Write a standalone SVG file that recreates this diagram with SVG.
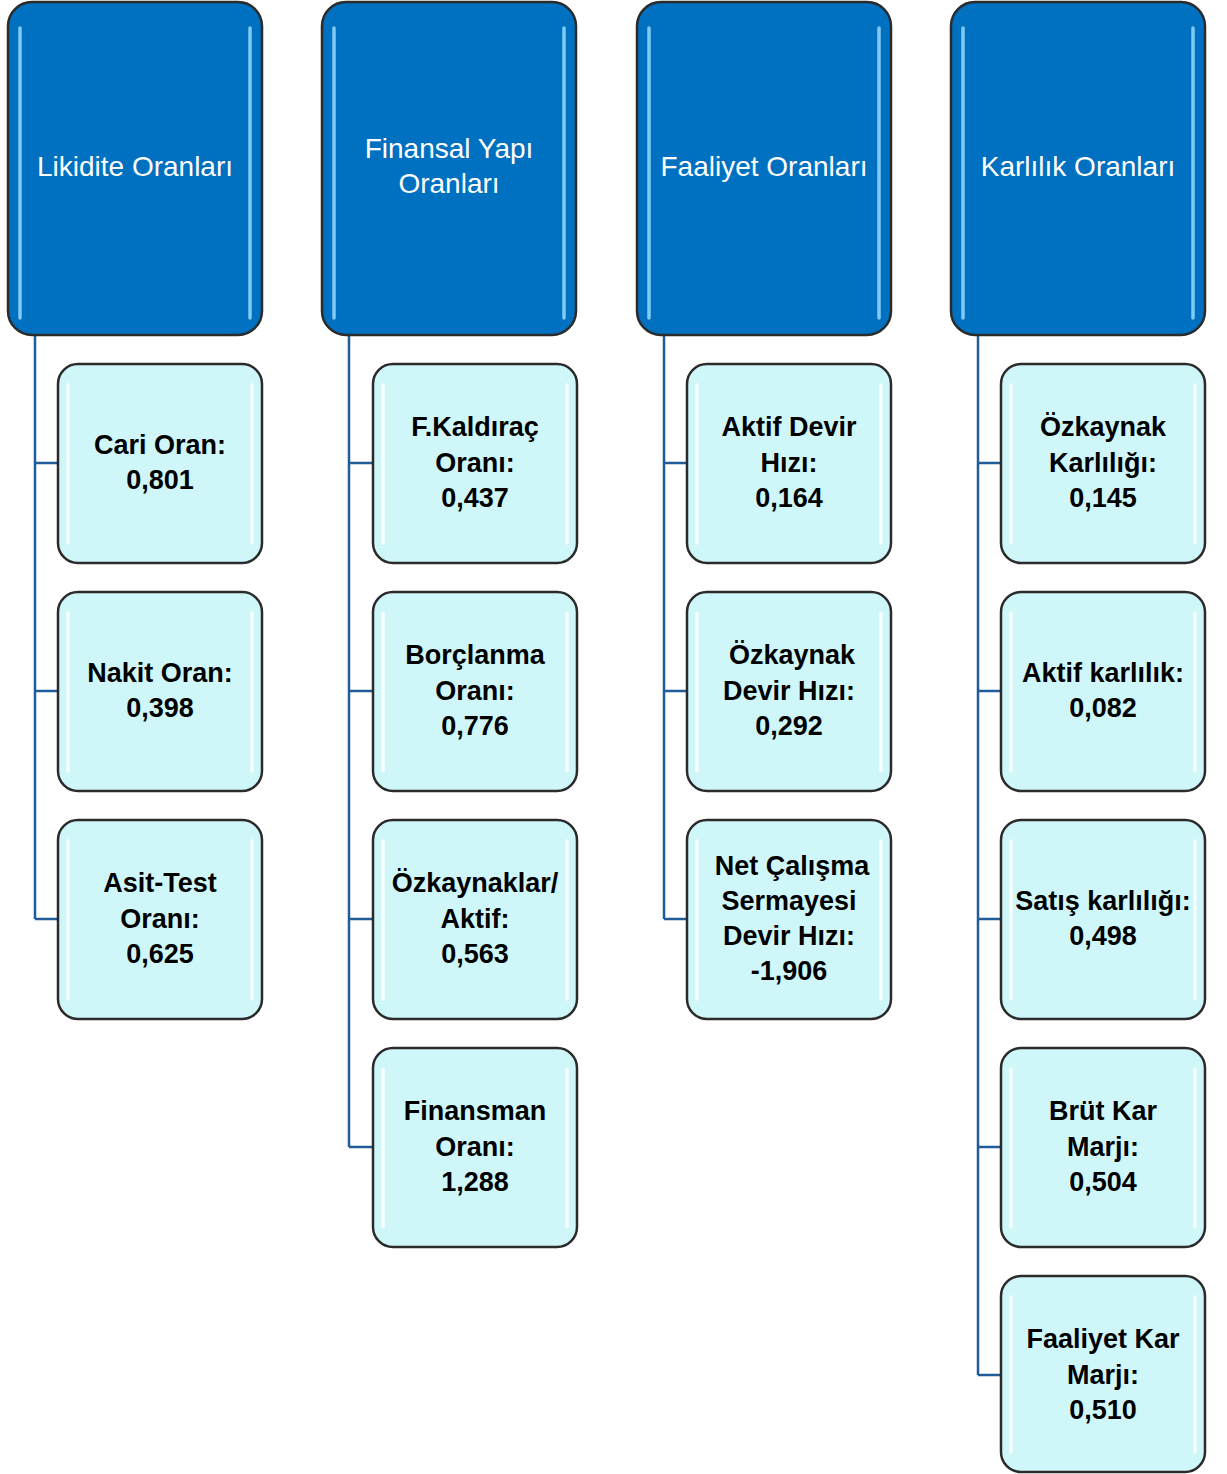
<svg xmlns="http://www.w3.org/2000/svg" width="1227" height="1474" viewBox="0 0 1227 1474">
<style>
.hdr{fill:#0070C0;stroke:#2b2b2b;stroke-width:2.5}
.hl{stroke:#8ED4FA;stroke-width:3.5;stroke-linecap:round;fill:none;opacity:0.9}
.chl{stroke:#ffffff;stroke-width:3.5;stroke-linecap:round;fill:none;opacity:0.8}
.box{fill:#CFF7FA;stroke:#2b2b2b;stroke-width:2.5}
.ht{font-family:"Liberation Sans",Arial,sans-serif;font-size:28px;fill:#ffffff;text-anchor:middle}
.ct{font-family:"Liberation Sans",Arial,sans-serif;font-size:27px;font-weight:bold;fill:#000;text-anchor:middle}
.con{stroke:#1F5C99;stroke-width:2.5;fill:none}
</style>
<rect width="1227" height="1474" fill="#ffffff"/>
<g id="connectors">
<path class="con" d="M35 335 V919 M35 463 H58 M35 691 H58 M35 919 H58"/>
<path class="con" d="M349 335 V1147 M349 463 H372 M349 691 H372 M349 919 H372 M349 1147 H372"/>
<path class="con" d="M664 335 V919 M664 463 H687 M664 691 H687 M664 919 H687"/>
<path class="con" d="M978 335 V1375 M978 463 H1001 M978 691 H1001 M978 919 H1001 M978 1147 H1001 M978 1375 H1001"/>
</g>
<g id="h1"><rect class="hdr" x="8" y="2" width="254" height="333" rx="24"/><path class="hl" d="M20 28 V318 M250 28 V318"/><text class="ht" x="135" y="176">Likidite Oranları</text></g>
<g id="h2"><rect class="hdr" x="322" y="2" width="254" height="333" rx="24"/><path class="hl" d="M334 28 V318 M564 28 V318"/><text class="ht" x="449" y="158">Finansal Yapı</text><text class="ht" x="449" y="193">Oranları</text></g>
<g id="h3"><rect class="hdr" x="637" y="2" width="254" height="333" rx="24"/><path class="hl" d="M649 28 V318 M879 28 V318"/><text class="ht" x="764" y="176">Faaliyet Oranları</text></g>
<g id="h4"><rect class="hdr" x="951" y="2" width="254" height="333" rx="24"/><path class="hl" d="M963 28 V318 M1193 28 V318"/><text class="ht" x="1078" y="176">Karlılık Oranları</text></g>

<g id="c1a"><rect class="box" x="58" y="364" width="204" height="199" rx="20"/><path class="chl" d="M68 385 V543 M252 385 V543"/><text class="ct" x="160" y="454">Cari Oran:</text><text class="ct" x="160" y="489">0,801</text></g>
<g id="c1b"><rect class="box" x="58" y="592" width="204" height="199" rx="20"/><path class="chl" d="M68 613 V771 M252 613 V771"/><text class="ct" x="160" y="682">Nakit Oran:</text><text class="ct" x="160" y="717">0,398</text></g>
<g id="c1c"><rect class="box" x="58" y="820" width="204" height="199" rx="20"/><path class="chl" d="M68 841 V999 M252 841 V999"/><text class="ct" x="160" y="892">Asit-Test</text><text class="ct" x="160" y="928">Oranı:</text><text class="ct" x="160" y="963">0,625</text></g>

<g id="c2a"><rect class="box" x="373" y="364" width="204" height="199" rx="20"/><path class="chl" d="M383 385 V543 M567 385 V543"/><text class="ct" x="475" y="436">F.Kaldıraç</text><text class="ct" x="475" y="472">Oranı:</text><text class="ct" x="475" y="507">0,437</text></g>
<g id="c2b"><rect class="box" x="373" y="592" width="204" height="199" rx="20"/><path class="chl" d="M383 613 V771 M567 613 V771"/><text class="ct" x="475" y="664">Borçlanma</text><text class="ct" x="475" y="700">Oranı:</text><text class="ct" x="475" y="735">0,776</text></g>
<g id="c2c"><rect class="box" x="373" y="820" width="204" height="199" rx="20"/><path class="chl" d="M383 841 V999 M567 841 V999"/><text class="ct" x="475" y="892">Özkaynaklar/</text><text class="ct" x="475" y="928">Aktif:</text><text class="ct" x="475" y="963">0,563</text></g>
<g id="c2d"><rect class="box" x="373" y="1048" width="204" height="199" rx="20"/><path class="chl" d="M383 1069 V1227 M567 1069 V1227"/><text class="ct" x="475" y="1120">Finansman</text><text class="ct" x="475" y="1156">Oranı:</text><text class="ct" x="475" y="1191">1,288</text></g>

<g id="c3a"><rect class="box" x="687" y="364" width="204" height="199" rx="20"/><path class="chl" d="M697 385 V543 M881 385 V543"/><text class="ct" x="789" y="436">Aktif Devir</text><text class="ct" x="789" y="472">Hızı:</text><text class="ct" x="789" y="507">0,164</text></g>
<g id="c3b"><rect class="box" x="687" y="592" width="204" height="199" rx="20"/><path class="chl" d="M697 613 V771 M881 613 V771"/><text class="ct" x="792" y="664">Özkaynak</text><text class="ct" x="789" y="700">Devir Hızı:</text><text class="ct" x="789" y="735">0,292</text></g>
<g id="c3c"><rect class="box" x="687" y="820" width="204" height="199" rx="20"/><path class="chl" d="M697 841 V999 M881 841 V999"/><text class="ct" x="792" y="875">Net Çalışma</text><text class="ct" x="789" y="910">Sermayesi</text><text class="ct" x="789" y="945">Devir Hızı:</text><text class="ct" x="789" y="980">-1,906</text></g>

<g id="c4a"><rect class="box" x="1001" y="364" width="204" height="199" rx="20"/><path class="chl" d="M1011 385 V543 M1195 385 V543"/><text class="ct" x="1103" y="436">Özkaynak</text><text class="ct" x="1103" y="472">Karlılığı:</text><text class="ct" x="1103" y="507">0,145</text></g>
<g id="c4b"><rect class="box" x="1001" y="592" width="204" height="199" rx="20"/><path class="chl" d="M1011 613 V771 M1195 613 V771"/><text class="ct" x="1103" y="682">Aktif karlılık:</text><text class="ct" x="1103" y="717">0,082</text></g>
<g id="c4c"><rect class="box" x="1001" y="820" width="204" height="199" rx="20"/><path class="chl" d="M1011 841 V999 M1195 841 V999"/><text class="ct" x="1103" y="910">Satış karlılığı:</text><text class="ct" x="1103" y="945">0,498</text></g>
<g id="c4d"><rect class="box" x="1001" y="1048" width="204" height="199" rx="20"/><path class="chl" d="M1011 1069 V1227 M1195 1069 V1227"/><text class="ct" x="1103" y="1120">Brüt Kar</text><text class="ct" x="1103" y="1156">Marjı:</text><text class="ct" x="1103" y="1191">0,504</text></g>
<g id="c4e"><rect class="box" x="1001" y="1276" width="204" height="196" rx="20"/><path class="chl" d="M1011 1297 V1452 M1195 1297 V1452"/><text class="ct" x="1103" y="1348">Faaliyet Kar</text><text class="ct" x="1103" y="1384">Marjı:</text><text class="ct" x="1103" y="1419">0,510</text></g>
</svg>
